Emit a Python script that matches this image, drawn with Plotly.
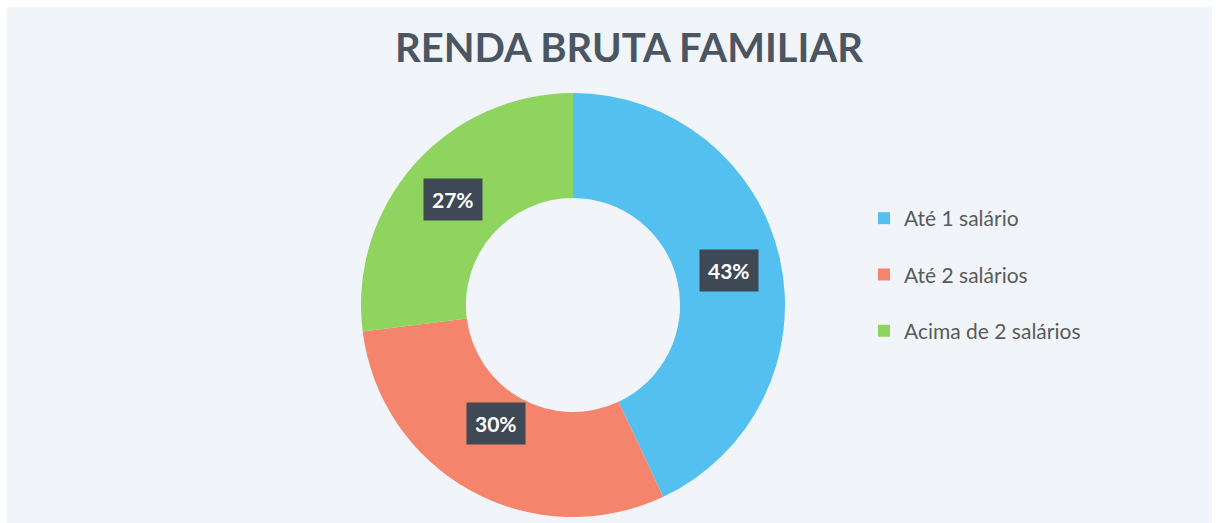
import math
import plotly.graph_objects as go

categories = ["Até 1 salário", "Até 2 salários", "Acima de 2 salários"]
values = [43, 30, 27]
colors = ["#53c0f0", "#f5846c", "#8fd45e"]
title_text = "RENDA BRUTA FAMILIAR"

W, H = 1218, 523
cx, cy, R = 573, 305, 212  # pie centre/radius in pixels (from top)
hole = 0.505

fig = go.Figure()
fig.add_trace(go.Pie(
    labels=categories, values=values, hole=hole, sort=False,
    direction="clockwise", rotation=0,
    marker=dict(colors=colors, line=dict(width=0)),
    textinfo="none", showlegend=False, hoverinfo="label+percent",
    domain=dict(x=[(cx - R) / W, (cx + R) / W],
                y=[(H - cy - R) / H, (H - cy + R) / H]),
))

# legend entries (one group per category for spacing)
for i, (c, col) in enumerate(zip(categories, colors)):
    fig.add_trace(go.Scatter(
        x=[None], y=[None], mode="markers", name=c,
        marker=dict(symbol="square", size=12, color=col),
        legendgroup=f"g{i}", showlegend=True, hoverinfo="skip",
    ))

# percentage labels in dark boxes at slice mid-angles
total = sum(values)
cum = 0
r_mid = R * (1 + hole) / 2
annotations = []
for v in values:
    theta = 2 * math.pi * (cum + v / 2) / total
    cum += v
    px = cx + r_mid * math.sin(theta)
    py = cy - r_mid * math.cos(theta)
    annotations.append(dict(
        x=px / W, y=1 - py / H, xref="paper", yref="paper",
        text=f"<b>{round(100 * v / total)}%</b>", showarrow=False,
        font=dict(family="Lato, Open Sans, sans-serif", size=21, color="#ffffff"),
        bgcolor="#3f4855", borderpad=8,
    ))

fig.update_layout(
    width=W, height=H,
    margin=dict(l=0, r=0, t=0, b=0),
    paper_bgcolor="#ffffff", plot_bgcolor="rgba(0,0,0,0)",
    title=dict(text=f"<b>{title_text}</b>", x=629 / W, xanchor="center",
               y=1 - 48 / H, yanchor="middle",
               font=dict(family="Lato, Open Sans, sans-serif", size=40, color="#4c5562")),
    xaxis=dict(visible=False), yaxis=dict(visible=False),
    legend=dict(x=864 / W, y=1 - 198 / H, xanchor="left", yanchor="top",
                tracegroupgap=26, bgcolor="rgba(0,0,0,0)",
                font=dict(family="Lato, Open Sans, sans-serif", size=21, color="#5a5a5a"),
                itemclick=False, itemdoubleclick=False),
    annotations=annotations,
    shapes=[dict(type="rect", xref="paper", yref="paper", layer="below",
                 x0=7 / W, x1=1212 / W, y0=0, y1=1 - 7 / H,
                 fillcolor="#f1f5f9", line=dict(width=0))],
)

fig.write_html("out.html", config={"displayModeBar": False},
               post_script="document.body.style.margin='0';document.body.style.padding='0';")
